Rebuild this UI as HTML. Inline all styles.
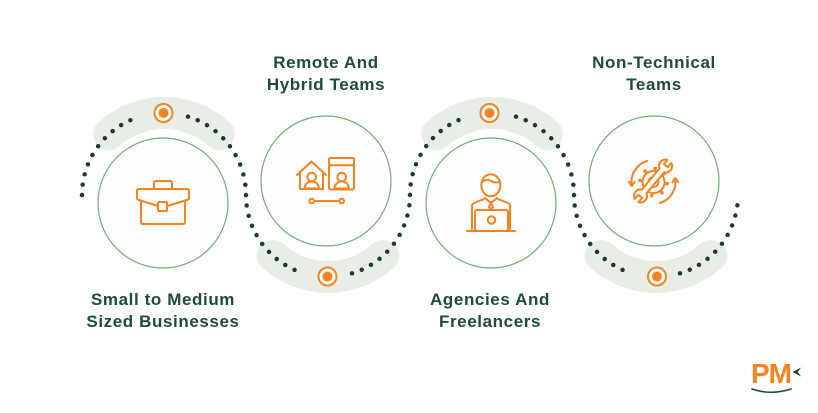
<!DOCTYPE html>
<html>
<head>
<meta charset="utf-8">
<style>
  html,body{margin:0;padding:0;background:#ffffff;}
  svg{display:block;}
  .t{font-family:"Liberation Sans",Arial,sans-serif;font-weight:bold;font-size:17px;fill:#1f4a3f;letter-spacing:0.6px;}
  .ic{fill:none;stroke:#f6831f;stroke-width:2;stroke-linecap:round;stroke-linejoin:round;}
  .dots{fill:none;stroke:#183b34;stroke-width:4.5;stroke-linecap:round;stroke-dasharray:0 10.45;}
  .band{fill:none;stroke:#e8ede6;stroke-width:32;stroke-linecap:round;}
</style>
</head>
<body>
<svg width="818" height="413" viewBox="0 0 818 413" xmlns="http://www.w3.org/2000/svg">
  <rect width="818" height="413" fill="#ffffff"/>

  <!-- bands -->
  <path class="band" d="M109.1,134.1 A82,82 0 0 1 218.9,134.1"/>
  <path class="band" d="M273.1,255.9 A82,82 0 0 0 382.9,255.9"/>
  <path class="band" d="M437.1,134.1 A82,82 0 0 1 546.9,134.1"/>
  <path class="band" d="M601.1,255.9 A82,82 0 0 0 710.9,255.9"/>

  <!-- node circles -->
  <circle cx="163" cy="203" r="65" fill="#fdfdfd" stroke="#72ad72" stroke-width="1.2"/>
  <circle cx="326" cy="181" r="65" fill="#fdfdfd" stroke="#72ad72" stroke-width="1.2"/>
  <circle cx="491" cy="203" r="65" fill="#fdfdfd" stroke="#72ad72" stroke-width="1.2"/>
  <circle cx="654" cy="181" r="65" fill="#fdfdfd" stroke="#72ad72" stroke-width="1.2"/>

  <!-- dotted S curve -->
  <path class="dots" d="M82,195 A82,82 0 0 1 140,116.6"/>
  <path class="dots" d="M188,116.6 A82,82 0 0 1 246,195 A82,82 0 0 0 304,273.4"/>
  <path class="dots" d="M352,273.4 A82,82 0 0 0 410,195 A82,82 0 0 1 468,116.6"/>
  <path class="dots" d="M516,116.6 A82,82 0 0 1 574,195 A82,82 0 0 0 632,273.4"/>
  <path class="dots" d="M680,273.4 A82,82 0 0 0 737.4,205"/>

  <!-- markers -->
  <g>
    <circle cx="163.5" cy="113" r="9" fill="#ffffff" stroke="#f6831f" stroke-width="2"/>
    <circle cx="163.5" cy="113" r="5" fill="#f6831f"/>
    <circle cx="327.5" cy="276.5" r="9" fill="#ffffff" stroke="#f6831f" stroke-width="2"/>
    <circle cx="327.5" cy="276.5" r="5" fill="#f6831f"/>
    <circle cx="489.5" cy="113" r="9" fill="#ffffff" stroke="#f6831f" stroke-width="2"/>
    <circle cx="489.5" cy="113" r="5" fill="#f6831f"/>
    <circle cx="657" cy="276.5" r="9" fill="#ffffff" stroke="#f6831f" stroke-width="2"/>
    <circle cx="657" cy="276.5" r="5" fill="#f6831f"/>
  </g>

  <!-- icon 1: briefcase -->
  <g class="ic">
    <path d="M154,189 V183 Q154,181 156,181 H170 Q172,181 172,183 V189"/>
    <path d="M158,206 L139,200 Q137,199.5 137,198 V191 Q137,189 139,189 H187 Q189,189 189,191 V198 Q189,199.5 187,200 L167,206"/>
    <rect x="158" y="202" width="9" height="9" rx="1"/>
    <path d="M141,201 V222 Q141,224 143,224 H183 Q185,224 185,222 V201"/>
  </g>

  <!-- icon 2: remote & hybrid -->
  <g class="ic">
    <polyline points="297,175 311.5,161.5 326,175"/>
    <path d="M300,172 V189 H323 V172"/>
    <circle cx="311.7" cy="177" r="4.3"/>
    <path d="M304.5,188.5 a7.2,7 0 0 1 14.4,0 Z"/>
    <rect x="329" y="158" width="25" height="31.5" rx="1.5"/>
    <path d="M329,165.3 H354"/>
    <circle cx="341.7" cy="177" r="4.3"/>
    <path d="M334.5,188.5 a7.2,7 0 0 1 14.4,0 Z"/>
    <circle cx="311.7" cy="201" r="2.3"/>
    <circle cx="341.7" cy="201" r="2.3"/>
    <path d="M314,201 H339.4"/>
  </g>

  <!-- icon 3: person with laptop -->
  <g class="ic">
    <ellipse cx="490.8" cy="185.3" rx="9.5" ry="11"/>
    <path d="M481.5,183 Q486,178 491,181 Q496,184 500,181"/>
    <path d="M485,198 L491,203 L497,198"/>
    <path d="M491,203 L489,207 L491,209.5 L493,207 Z"/>
    <path d="M484,199 L474,203 Q472,204 472,206 V229"/>
    <path d="M498,199 L508,203 Q510,204 510,206 V229"/>
    <rect x="475" y="210" width="33" height="21" rx="2" fill="#fdfdfd"/>
    <circle cx="491.5" cy="220" r="3.7"/>
    <path d="M467,231 H515"/>
  </g>

  <!-- icon 4: gear + wrench with rotating arrows -->
  <g class="ic">
    <path d="M647.1,161 A22,22 0 0 0 631.7,185.1"/>
    <path d="M628.9,181.8 L631.7,186 L634.6,181.8"/>
    <path d="M659.9,203 A22,22 0 0 0 675.3,178.9"/>
    <path d="M672.4,182.2 L675.3,178 L678.1,182.2"/>
    <circle cx="653.5" cy="182" r="11"/>
    <circle cx="653.5" cy="182" r="13.6" stroke-width="3.4" stroke-linecap="butt" stroke-dasharray="3.2 7.48"/>
    <circle cx="653.5" cy="182" r="5"/>
    <path transform="translate(653,181) rotate(-50)" fill="#fdfdfd" d="M13.73,-3 A6.5,6.5 0 0 1 25.5,-2.5 L20,-2.5 L20,2.5 L25.5,2.5 A6.5,6.5 0 0 1 13.73,3 L-13.73,3 A6.5,6.5 0 0 1 -25.5,2.5 L-20,2.5 L-20,-2.5 L-25.5,-2.5 A6.5,6.5 0 0 1 -13.73,-3 Z"/>
  </g>

  <!-- labels -->
  <text class="t" x="326" y="68" text-anchor="middle">Remote And</text>
  <text class="t" x="326" y="90" text-anchor="middle">Hybrid Teams</text>
  <text class="t" x="654" y="68" text-anchor="middle">Non-Technical</text>
  <text class="t" x="654" y="90" text-anchor="middle">Teams</text>
  <text class="t" x="163" y="305" text-anchor="middle">Small to Medium</text>
  <text class="t" x="163" y="327" text-anchor="middle">Sized Businesses</text>
  <text class="t" x="490" y="305" text-anchor="middle">Agencies And</text>
  <text class="t" x="490" y="327" text-anchor="middle">Freelancers</text>

  <!-- logo -->
  <text x="751" y="383" font-family="Liberation Sans, Arial, sans-serif" font-weight="bold" font-size="28" fill="#f6831f" letter-spacing="-1">PM</text>
  <polygon points="792.5,372 801,367.5 797.8,372 801,376.5" fill="#1c4a3e"/>
  <path d="M752,389 Q771,395.5 791,389" fill="none" stroke="#1c4a3e" stroke-width="1.6" stroke-linecap="round"/>
</svg>
</body>
</html>
